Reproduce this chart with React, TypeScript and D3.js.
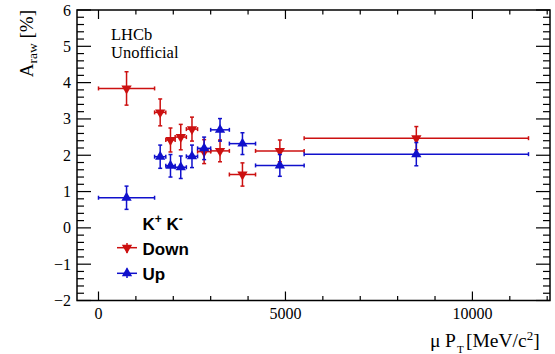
import React from "react";
import * as d3 from "d3";

const binLow = [0, 1500, 1800, 2050, 2350, 2650, 3000, 3500, 4200, 5500];
const binHigh = [1500, 1800, 2050, 2350, 2650, 3000, 3500, 4200, 5500, 11500];
const binCenter = [750, 1650, 1925, 2200, 2500, 2825, 3250, 3850, 4850, 8500];
const downValues = [3.84, 3.18, 2.42, 2.5, 2.72, 2.1, 2.12, 1.47, 2.12, 2.47];
const downErrors = [0.46, 0.37, 0.33, 0.35, 0.33, 0.33, 0.3, 0.32, 0.3, 0.32];
const upValues = [0.83, 1.96, 1.71, 1.67, 1.97, 2.19, 2.7, 2.32, 1.72, 2.03];
const upErrors = [0.32, 0.32, 0.31, 0.31, 0.31, 0.31, 0.31, 0.3, 0.3, 0.32];
const xTicks = [0, 5000, 10000];
const yTicks = [-2, -1, 0, 1, 2, 3, 4, 5, 6];

const RED = "#cc1010";
const BLUE = "#1010cc";

const W = 555, H = 354;
const left = 77, right = 550, top = 10, bottom = 300.5;
const x = d3.scaleLinear().domain([-575, 12075]).range([left, right]);
const y = d3.scaleLinear().domain([-2, 6]).range([bottom, top]);

const serif = "'Liberation Serif', 'Times New Roman', serif";
const sans = "'Liberation Sans', Arial, sans-serif";
const MARKER = 46;

function Series({ values, errors, color, down }: any) {
  const tri = d3.symbol().type(d3.symbolTriangle).size(MARKER)() as string;
  return (
    <g stroke={color} fill={color} strokeWidth={1.5}>
      {values.map((v: number, i: number) => {
        const cx = x(binCenter[i]);
        const cy = y(v);
        const x0 = x(binLow[i]);
        const x1 = x(binHigh[i]);
        const yt = y(v + errors[i]);
        const yb = y(v - errors[i]);
        return (
          <g key={i}>
            <line x1={x0} x2={x1} y1={cy} y2={cy} />
            <line x1={x0} x2={x0} y1={cy - 2} y2={cy + 2} />
            <line x1={x1} x2={x1} y1={cy - 2} y2={cy + 2} />
            <line x1={cx} x2={cx} y1={yt} y2={yb} />
            <line x1={cx - 2} x2={cx + 2} y1={yt} y2={yt} />
            <line x1={cx - 2} x2={cx + 2} y1={yb} y2={yb} />
            <path d={tri} stroke="none" transform={`translate(${cx},${cy}) rotate(${down ? 180 : 0})`} />
          </g>
        );
      })}
    </g>
  );
}

export default function App() {
  const xMinor = d3.range(0, 12001, 1000);
  const yMinor = d3.range(-2, 6.001, 0.2).map((v) => Math.round(v * 10) / 10);
  const tri = d3.symbol().type(d3.symbolTriangle).size(MARKER)() as string;
  return (
    <svg width={W} height={H} style={{ position: "absolute", left: 0, top: 0, background: "#fff" }}>
      <rect x={0} y={0} width={W} height={H} fill="#fff" />
      {/* ticks */}
      <g stroke="#000" strokeWidth={1.2}>
        {xMinor.map((t) => {
          const major = t % 5000 === 0;
          const L = major ? 9 : 4.5;
          return (
            <g key={"xt" + t}>
              <line x1={x(t)} x2={x(t)} y1={bottom} y2={bottom - L} />
              <line x1={x(t)} x2={x(t)} y1={top} y2={top + L} />
            </g>
          );
        })}
        {yMinor.map((t) => {
          const major = Math.abs(t - Math.round(t)) < 1e-6;
          const L = major ? 14 : 7;
          return (
            <g key={"yt" + t}>
              <line x1={left} x2={left + L} y1={y(t)} y2={y(t)} />
              <line x1={right} x2={right - L} y1={y(t)} y2={y(t)} />
            </g>
          );
        })}
      </g>
      <rect x={left} y={top} width={right - left} height={bottom - top} fill="none" stroke="#000" strokeWidth={1.5} />
      {/* tick labels */}
      <g fontFamily={serif} fontSize={16} fill="#000">
        {xTicks.map((t) => (
          <text key={"xl" + t} x={x(t)} y={319} textAnchor="middle">{t}</text>
        ))}
        {yTicks.map((t) => (
          <text key={"yl" + t} x={71} y={y(t) + 5.5} textAnchor="end">{t < 0 ? "\u2212" + Math.abs(t) : t}</text>
        ))}
      </g>
      {/* axis titles */}
      <text transform={`translate(33,${top}) rotate(-90)`} textAnchor="end" fontFamily={serif} fontSize={19} fill="#000">
        A<tspan fontSize={13.5} dy={4}>raw</tspan><tspan dy={-4}>{" [%]"}</tspan>
      </text>
      <g fontFamily={serif} fontSize={19.5} fill="#000">
        <text x={430} y={347}>μ</text>
        <text x={445} y={347}>P</text>
        <text x={457} y={353} fontSize={11}>T</text>
        <text x={466} y={347}>
          [MeV/c<tspan fontSize={13} dy={-7}>2</tspan><tspan dy={7}>]</tspan>
        </text>
      </g>
      {/* LHCb label */}
      <text x={111} y={40} fontFamily={serif} fontSize={16.5} fill="#000">LHCb</text>
      <text x={111} y={57.5} fontFamily={serif} fontSize={16.5} fill="#000">Unofficial</text>
      {/* data */}
      <Series values={downValues} errors={downErrors} color={RED} down={true} />
      <Series values={upValues} errors={upErrors} color={BLUE} down={false} />
      {/* legend */}
      <g fontFamily={sans} fontWeight="bold" fontSize={17} fill="#000">
        <text x={142.5} y={230}>
          K<tspan fontSize={12} dy={-7}>+</tspan><tspan dy={7}>{" K"}</tspan><tspan fontSize={12} dy={-7}>-</tspan>
        </text>
        <text x={142.5} y={254.5}>Down</text>
        <text x={142.5} y={279.5}>Up</text>
      </g>
      <g stroke={RED} fill={RED} strokeWidth={1.5}>
        <line x1={117} x2={137} y1={247.7} y2={247.7} />
        <line x1={127} x2={127} y1={243} y2={253} />
        <path d={tri} stroke="none" transform={`translate(127,247.7) rotate(180)`} />
      </g>
      <g stroke={BLUE} fill={BLUE} strokeWidth={1.5}>
        <line x1={117} x2={137} y1={273.3} y2={273.3} />
        <line x1={127} x2={127} y1={268.5} y2={278} />
        <path d={tri} stroke="none" transform={`translate(127,273.3)`} />
      </g>
    </svg>
  );
}
